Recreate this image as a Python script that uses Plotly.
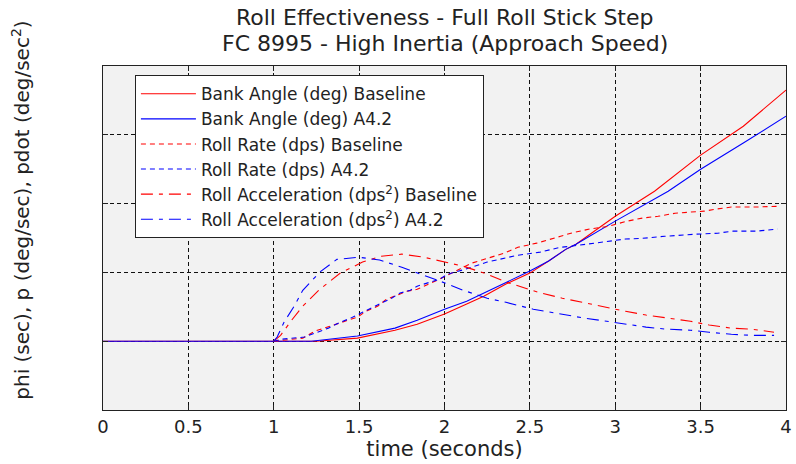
import plotly.graph_objects as go

# Time histories (seconds) and responses for the full roll stick step
t_bank_base = [0, 1.25, 1.49, 1.71, 1.84, 2.0, 2.13, 2.23, 2.36, 2.5, 2.61, 2.71, 2.77, 3.0, 3.23, 3.5, 3.75, 4.0]
bank_base = [0, 0, 0.9, 3.2, 4.9, 7.9, 10.8, 13.1, 16.6, 19.8, 23.3, 26.7, 28.2, 36.3, 43.6, 54.1, 62.5, 73.0]

t_bank_a42 = [0, 1.22, 1.49, 1.71, 1.84, 2.0, 2.13, 2.23, 2.36, 2.5, 2.61, 2.71, 2.77, 3.0, 3.31, 3.5, 3.75, 4.0]
bank_a42 = [0, 0, 1.5, 3.8, 6.1, 9.3, 11.6, 14.0, 16.9, 20.4, 23.3, 26.7, 28.2, 34.9, 43.6, 50.0, 57.6, 65.4]

t_rate_base = [1.0, 1.05, 1.17, 1.24, 1.35, 1.43, 1.49, 1.54, 1.61, 1.66, 1.72, 1.78, 1.84, 1.97, 2.16,
               2.27, 2.35, 2.43, 2.49, 2.54, 2.68, 2.74, 2.85, 2.96, 3.07, 3.16, 3.25, 3.35, 3.43, 3.52,
               3.59, 3.68, 3.82, 3.95]
rate_base = [0, 0.3, 0.9, 2.9, 4.7, 6.1, 7.0, 8.7, 10.2, 12.2, 13.4, 14.5, 15.1, 18.0, 22.7,
             24.4, 25.6, 27.3, 27.9, 28.5, 30.5, 31.4, 32.6, 33.4, 34.9, 35.8, 36.3, 37.2, 37.5, 37.8,
             38.4, 39.0, 39.0, 39.2]

t_rate_a42 = [1.0, 1.05, 1.18, 1.26, 1.32, 1.39, 1.45, 1.52, 1.58, 1.63, 1.69, 1.74, 1.8, 1.84, 1.97,
              2.02, 2.12, 2.25, 2.43, 2.56, 2.68, 2.74, 2.87, 2.96, 3.06, 3.16, 3.29, 3.47, 3.6, 3.69,
              3.83, 3.95]
rate_a42 = [0, 0.6, 1.2, 2.6, 3.8, 5.5, 6.7, 8.4, 9.9, 11.1, 12.5, 14.0, 14.8, 16.0, 18.0,
            19.5, 20.9, 23.0, 25.0, 25.9, 27.3, 27.6, 28.5, 29.1, 29.7, 29.9, 30.5, 31.1, 31.4, 32.0,
            32.0, 32.6]

t_acc_base = [1.0, 1.04, 1.1, 1.17, 1.27, 1.39, 1.52, 1.63, 1.75, 1.88, 2.11, 2.25, 2.36, 2.55, 2.69,
              2.82, 2.95, 3.06, 3.18, 3.3, 3.44, 3.55, 3.68, 3.8, 3.93]
acc_base = [0, 1.7, 5.8, 10.2, 15.1, 19.8, 23.0, 24.7, 25.3, 24.4, 21.8, 19.5, 17.2, 14.2, 12.5,
            11.1, 9.9, 8.7, 7.6, 6.7, 5.8, 4.7, 3.8, 3.5, 2.6]

t_acc_a42 = [1.0, 1.02, 1.06, 1.12, 1.17, 1.27, 1.37, 1.5, 1.62, 1.75, 2.02, 2.11, 2.25, 2.36, 2.52,
             2.68, 2.82, 2.95, 3.06, 3.18, 3.3, 3.44, 3.55, 3.68, 3.8, 3.93]
acc_a42 = [0, 1.2, 5.5, 10.2, 14.8, 20.1, 23.8, 24.4, 23.6, 21.5, 16.6, 14.8, 12.5, 11.3, 9.3,
           7.9, 6.7, 5.8, 4.9, 4.1, 3.5, 3.2, 2.6, 2.0, 1.7, 1.7]

x_ticks = [0, 0.5, 1, 1.5, 2, 2.5, 3, 3.5, 4]

title_lines = ["Roll Effectiveness - Full Roll Stick Step",
               "FC 8995 - High Inertia (Approach Speed)"]

RED = "#ff0000"
BLUE = "#0000ff"
FONT = "DejaVu Sans, Verdana, sans-serif"
INK = "#222"
DOT = "5px,4px"
DASHDOT = "12px,6px,4px,6px"

series = [
    ("Bank Angle (deg) Baseline", t_bank_base, bank_base, RED, "solid"),
    ("Bank Angle (deg) A4.2", t_bank_a42, bank_a42, BLUE, "solid"),
    ("Roll Rate (dps) Baseline", t_rate_base, rate_base, RED, DOT),
    ("Roll Rate (dps) A4.2", t_rate_a42, rate_a42, BLUE, DOT),
    ("Roll Acceleration (dps<sup>2</sup>) Baseline", t_acc_base, acc_base, RED, DASHDOT),
    ("Roll Acceleration (dps<sup>2</sup>) A4.2", t_acc_a42, acc_a42, BLUE, DASHDOT),
]

fig = go.Figure()
for name, tx, vy, color, dash in series:
    fig.add_trace(go.Scatter(
        x=tx, y=vy, name=name, mode="lines",
        line=dict(color=color, width=1.1, dash=dash),
    ))

axis_common = dict(
    showline=True, linecolor=INK, linewidth=1.2, mirror="ticks",
    ticks="inside", ticklen=5, tickcolor=INK,
    showgrid=True, gridcolor="#111", gridwidth=1.3, griddash="4px,3px",
    zeroline=False,
)

# plot area spans 103..792 px horizontally and 66..410 px vertically
def px_to_paper_y(py):
    return (410 - py) / 344


def px_to_paper_x(px):
    return (px - 103) / 689


annotations = [
    dict(text=title_lines[0], xref="paper", yref="paper", x=0.5, y=px_to_paper_y(18),
         xanchor="center", yanchor="middle", showarrow=False,
         font=dict(size=22, family=FONT, color=INK)),
    dict(text=title_lines[1], xref="paper", yref="paper", x=0.5, y=px_to_paper_y(43),
         xanchor="center", yanchor="middle", showarrow=False,
         font=dict(size=22, family=FONT, color=INK)),
    dict(text="phi (sec), p (deg/sec), pdot (deg/sec<sup>2</sup>)", textangle=-90,
         xref="paper", yref="paper", x=px_to_paper_x(20), y=px_to_paper_y(210),
         xanchor="center", yanchor="middle", showarrow=False,
         font=dict(size=20, family=FONT, color=INK)),
]

fig.update_layout(
    width=796, height=464,
    margin=dict(l=103, r=4, t=66, b=54),
    paper_bgcolor="white",
    plot_bgcolor="#f2f2f2",
    font=dict(family=FONT, color=INK, size=17),
    xaxis=dict(
        range=[0, 4], tickvals=x_ticks,
        tickfont=dict(size=18),
        ticklabeloverflow="allow",
        title=dict(text="time (seconds)", font=dict(size=21), standoff=2),
        **axis_common,
    ),
    yaxis=dict(
        range=[-20, 80], dtick=20, showticklabels=False,
        **axis_common,
    ),
    legend=dict(
        x=px_to_paper_x(135), y=px_to_paper_y(75),
        xanchor="left", yanchor="top",
        bgcolor="white", bordercolor=INK, borderwidth=1.2,
        itemwidth=55,
        font=dict(size=17, family=FONT, color=INK),
    ),
    showlegend=True,
    annotations=annotations,
)

fig.write_html("out.html")
